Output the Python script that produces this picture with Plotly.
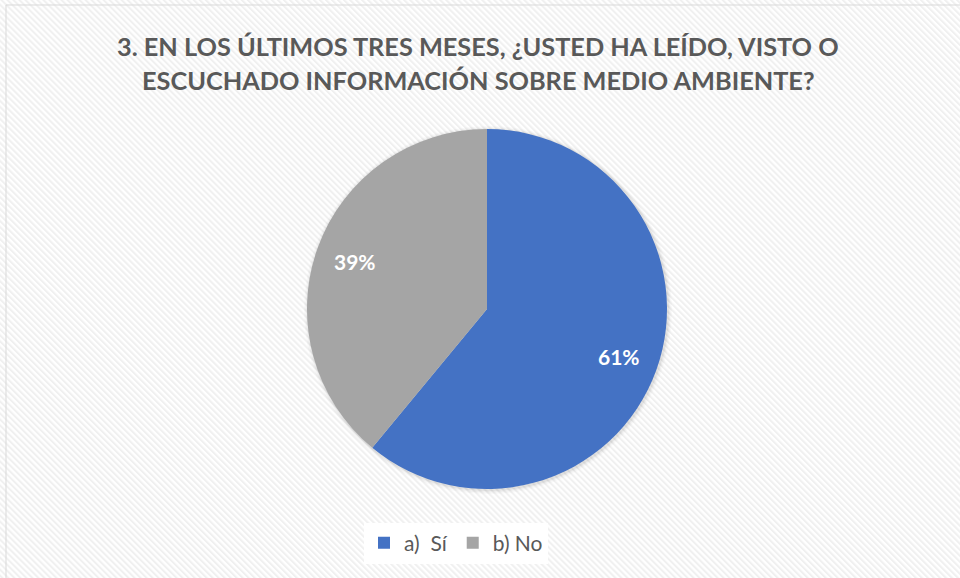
import base64
import math
import plotly.graph_objects as go

labels = ["a)  Sí", "b) No"]
values = [61, 39]
colors = ["#4472C4", "#A5A5A5"]
title_lines = ["3. EN LOS ÚLTIMOS TRES MESES, ¿USTED HA LEÍDO, VISTO O",
               "ESCUCHADO INFORMACIÓN SOBRE MEDIO AMBIENTE?"]

W, H = 960, 578
CX, CY, R = 487, 309, 180  # pie centre / radius in pixels

svg = f'''<svg xmlns="http://www.w3.org/2000/svg" width="{W}" height="{H}">
<defs><pattern id="p" width="4.25" height="4.25" patternUnits="userSpaceOnUse" patternTransform="rotate(-45)">
<rect width="4.25" height="4.25" fill="#ffffff"/><rect width="2" height="4.25" fill="#f0f0f0"/></pattern></defs>
<rect width="{W}" height="{H}" fill="url(#p)"/></svg>'''
src = "data:image/svg+xml;base64," + base64.b64encode(svg.encode()).decode()

fig = go.Figure()
fig.add_trace(go.Pie(
    labels=labels, values=values,
    marker=dict(colors=colors, line=dict(width=0)),
    sort=False, direction="clockwise", rotation=0,
    textinfo="none",
    domain=dict(x=[(CX - R) / W, (CX + R) / W], y=[(H - CY - R) / H, (H - CY + R) / H]),
    hoverinfo="label+percent",
))

# percentage labels placed along each slice's mid-angle
total = sum(values)
annotations = []
cum = 0
for v in values:
    mid = (cum + v / 2) / total * 2 * math.pi
    cum += v
    px = CX + 0.78 * R * math.sin(mid)
    py = CY - 0.78 * R * math.cos(mid)
    annotations.append(dict(text=f"{round(v / total * 100)}%", x=px / W, y=1 - py / H,
                            xref="paper", yref="paper", showarrow=False,
                            xanchor="center", yanchor="middle",
                            font=dict(family="Lato", size=21, color="white", weight="bold")))

for i, (line, ty) in enumerate(zip(title_lines, [46, 80])):
    annotations.append(dict(text=line, x=478 / W, y=1 - ty / H, xref="paper", yref="paper",
                            showarrow=False, xanchor="center", yanchor="middle",
                            font=dict(family="Lato", size=25.3, color="#595959", weight="bold")))

shadow = []
for dr, op in [(4, 0.025), (2.5, 0.035), (1.2, 0.05)]:
    shadow.append(dict(type="circle", xref="paper", yref="paper", layer="below",
                       x0=(CX - R - dr + 1) / W, x1=(CX + R + dr + 1) / W,
                       y0=1 - (CY + R + dr + 1) / H, y1=1 - (CY - R - dr + 1) / H,
                       fillcolor=f"rgba(0,0,0,{op})", line=dict(width=0)))

fig.update_layout(
    width=W, height=H,
    margin=dict(l=0, r=0, t=0, b=0),
    paper_bgcolor="white",
    images=[dict(source=src, xref="paper", yref="paper", x=0, y=1,
                 sizex=1, sizey=1, xanchor="left", yanchor="top",
                 sizing="stretch", layer="below")],
    shapes=[dict(type="rect", xref="paper", yref="paper",
                 x0=6 / W, x1=1.05, y0=-0.05, y1=1 - 5 / H,
                 line=dict(color="#D9D9D9", width=1), fillcolor="rgba(0,0,0,0)")] + shadow,
    annotations=annotations,
    showlegend=True,
    legend=dict(orientation="h", x=456 / W, xanchor="center", y=1 - 543 / H, yanchor="middle",
                bgcolor="white", font=dict(family="Lato", size=21, color="#595959"),
                itemsizing="constant", traceorder="normal", itemwidth=30),
)

fig.write_html("out.html", config={"displayModeBar": False},
               post_script="document.body.style.margin='0';document.body.style.overflow='hidden';")
